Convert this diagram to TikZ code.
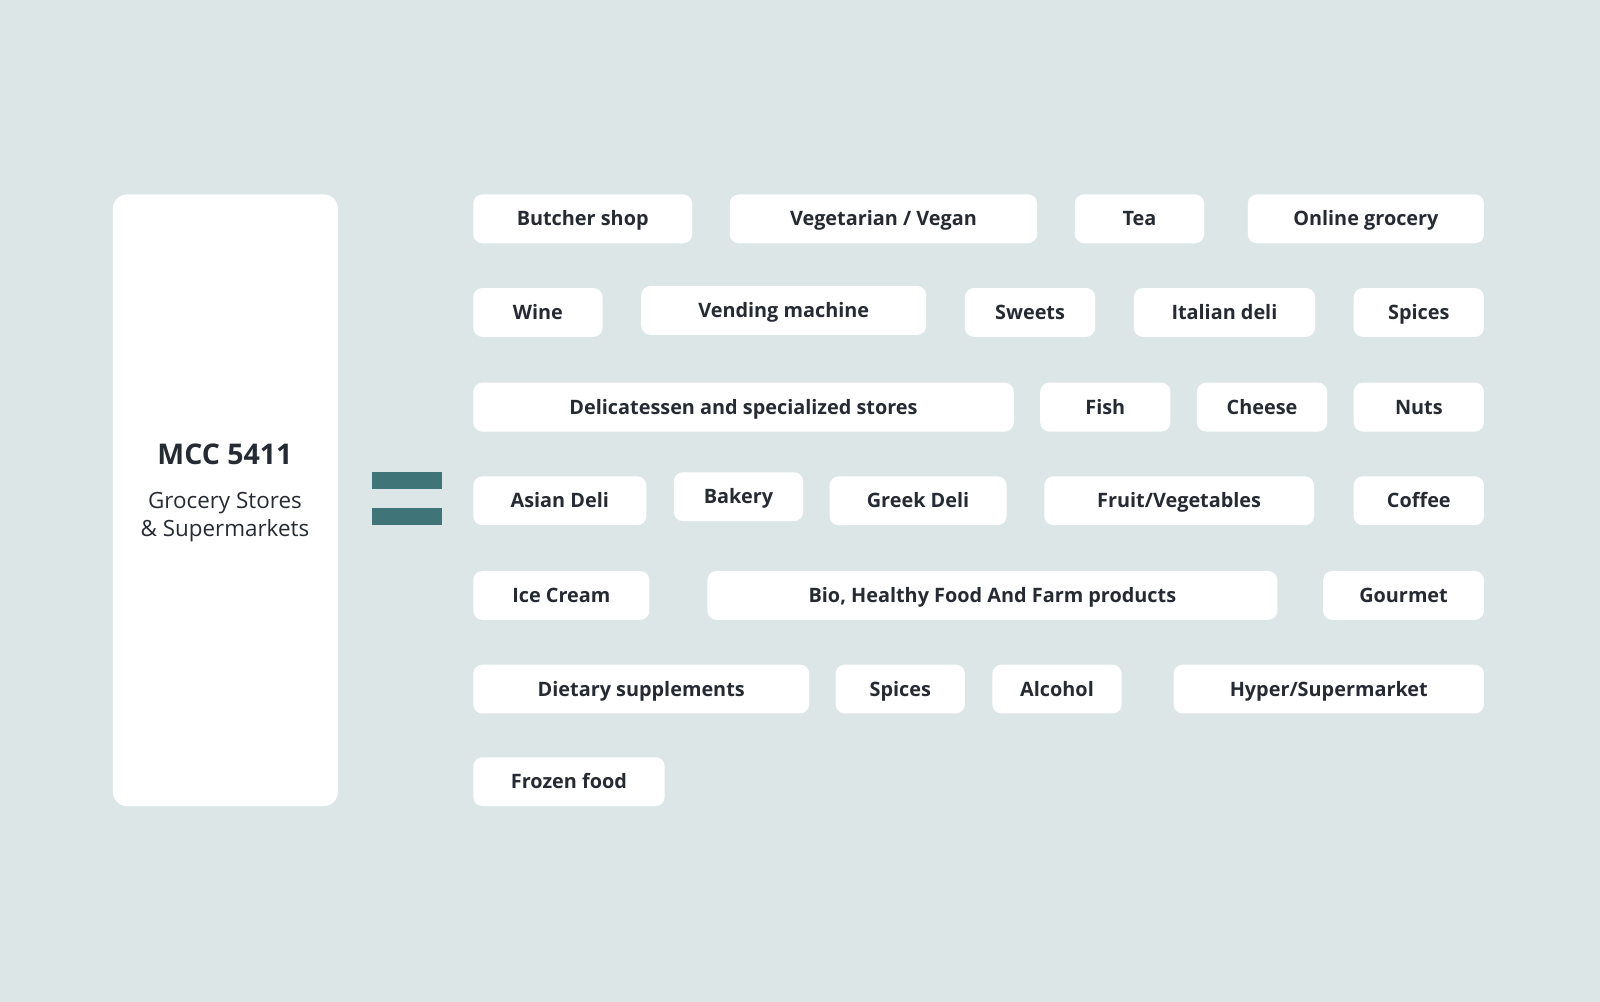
\documentclass[tikz,border=0pt]{standalone}
\usepackage{fontspec}
\setmainfont{Open Sans}
\usetikzlibrary{positioning}
\definecolor{pagebg}{HTML}{DDE6E7}
\definecolor{barteal}{HTML}{3F7578}
\definecolor{inktext}{HTML}{262B33}
\tikzstyle{tag} = [fill=white, rounded corners=9pt, minimum height=48pt,
    inner sep=0pt, text height=15pt, text depth=1pt, text=inktext,
    font=\fontsize{19.5}{22}\selectfont\bfseries]
\tikzstyle{panel} = [fill=white, rounded corners=14pt, inner sep=0pt]
\tikzstyle{bar} = [fill=barteal, inner sep=0pt, minimum width=69pt, minimum height=17pt]

\begin{document}
\begin{tikzpicture}[x=1pt, y=-1pt]
  % Page
  \fill [pagebg] (-2,-2) rectangle (1570,982);
  \useasboundingbox (0,0) rectangle (1568,980);

  % Left panel
  \node [panel, minimum width=221pt, minimum height=601pt] (mcc) at (219.5,489.5) {};
  \node [text=inktext, font=\fontsize{28}{32}\selectfont\bfseries] (code) at (219,444) {MCC 5411};
  \node [text=inktext, align=center, font=\fontsize{22}{27}\selectfont, inner sep=0pt] (name)
    at (219,506) {Grocery Stores\\\& Supermarkets};

  % Equals sign
  \node [bar] (eqtop) at (397.5,470) {};
  \node [bar] (eqbot) at (397.5,505.5) {};

  % Categories
  \foreach \id/\xa/\xb/\yc/\txt in {
      butcher/463/678/213/{Butcher shop}, vegan/715/1017/213/{Vegetarian / Vegan},
      tea/1054/1181/213/{Tea}, online/1224/1456/213/{Online grocery},
      wine/463/590/305/{Wine}, vending/628/908/303/{Vending machine},
      sweets/946/1074/305/{Sweets}, italian/1112/1290/305/{Italian deli},
      spicesa/1328/1456/305/{Spices},
      deli/463/994/398/{Delicatessen and specialized stores}, fish/1020/1148/398/{Fish},
      cheese/1174/1302/398/{Cheese}, nuts/1328/1456/398/{Nuts},
      asian/463/633/490/{Asian Deli}, bakery/660/787/486/{Bakery},
      greek/813/987/490/{Greek Deli}, fruit/1024/1289/490/{Fruit/Vegetables},
      coffee/1328/1456/490/{Coffee},
      icecream/463/636/583/{Ice Cream}, bio/693/1253/583/{Bio, Healthy Food And Farm products},
      gourmet/1298/1456/583/{Gourmet},
      dietary/463/793/675/{Dietary supplements}, spicesb/819/946/675/{Spices},
      alcohol/973/1100/675/{Alcohol}, hyper/1151/1456/675/{Hyper/Supermarket},
      frozen/463/651/766/{Frozen food}}
    \node [tag, minimum width=\xb pt-\xa pt] (\id) at ({(\xa+\xb)/2},\yc) {\txt};
\end{tikzpicture}
\end{document}
